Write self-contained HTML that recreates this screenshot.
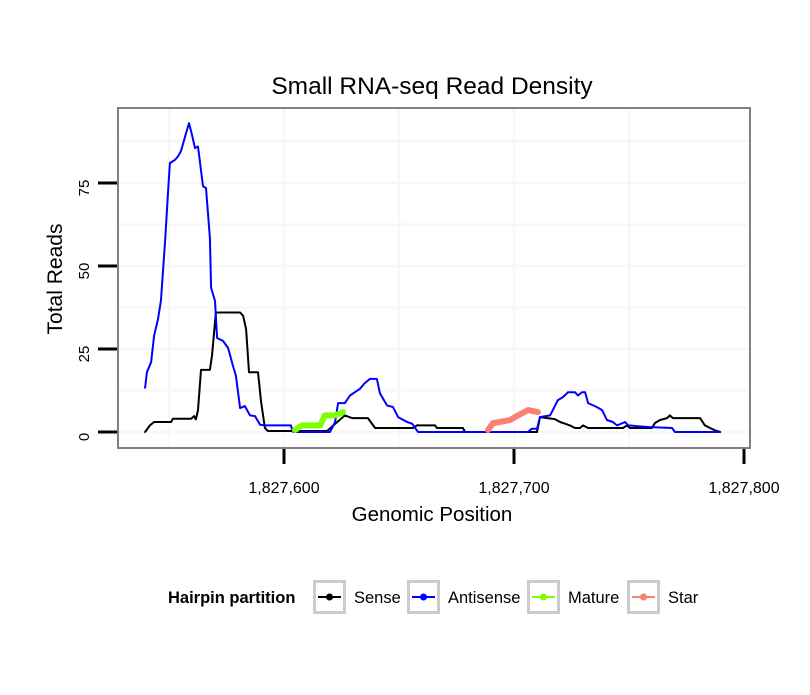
<!DOCTYPE html>
<html><head><meta charset="utf-8"><style>
body{margin:0;background:#fff}
svg{font-family:"Liberation Sans",sans-serif}
</style></head><body>
<svg width="810" height="690">
<rect width="810" height="690" fill="#fff"/>
<text x="432" y="94" text-anchor="middle" font-size="24.5">Small RNA-seq Read Density</text>
<g id="grid"></g>
<rect x="118" y="108" width="632" height="340" fill="none" stroke="#808080" stroke-width="2"/>
<g id="series"></g>
<g id="axes"></g>
<text x="432" y="521" text-anchor="middle" font-size="20.5">Genomic Position</text>
<text transform="translate(62,279) rotate(-90)" text-anchor="middle" font-size="21">Total Reads</text>
<g>
<text x="168" y="603" font-size="16.5" font-weight="bold">Hairpin partition</text>
<g id="legend"></g>
</g>
</svg>
<script>
const xTicks=[1827600,1827700,1827800];
const xTickLabels=["1,827,600","1,827,700","1,827,800"];
const yTicks=[0,25,50,75];
const yTickLabels=["0","25","50","75"];
const sensePos=[1827539.6,1827541.7,1827543.5,1827550.9,1827551.7,1827559.6,1827560.9,1827561.7,1827562.6,1827563.9,1827567.8,1827568.7,1827570.4,1827580.9,1827582.2,1827583.5,1827584.8,1827588.7,1827590,1827591.7,1827593,1827618.7,1827626.5,1827629.6,1827636.5,1827639.6,1827656.1,1827657.8,1827665.7,1827666.5,1827677.8,1827678.7,1827710,1827711.3,1827717.8,1827720,1827722.2,1827724.3,1827726.5,1827728.7,1827730,1827732.2,1827747.4,1827749.1,1827750.4,1827760,1827761.3,1827763.5,1827766.5,1827767.8,1827769.1,1827780.9,1827783,1827785.2,1827787.4,1827789.6];
const senseVal=[0,2,3,3,4,4,4.8,3.8,6.6,18.7,18.7,23,36,36,35,31,18,18,9.3,1.2,0.3,0.3,5,4.2,4.2,1.2,1.2,2,2,1.2,1.2,0,0,4.5,3.9,3,2.5,2,1.2,1.2,2,1.2,1.2,2,1.2,1.2,2.7,3.6,4.2,5,4.2,4.2,2,1.2,0.5,0];
const antiPos=[1827539.6,1827540.4,1827542.2,1827543.5,1827545.2,1827546.5,1827548.3,1827549.6,1827550.4,1827552.6,1827553.9,1827555.2,1827557,1827558.7,1827560,1827561.3,1827562.6,1827564.8,1827566.1,1827567.8,1827568.3,1827570,1827570.9,1827573.5,1827575.7,1827577.8,1827579.1,1827580.9,1827583,1827585.2,1827587.4,1827589.6,1827591.7,1827603,1827603.9,1827620,1827622.2,1827623.5,1827626.5,1827628.7,1827633,1827635.2,1827637.4,1827640.4,1827641.7,1827644.8,1827647.4,1827649.6,1827653.5,1827655.7,1827658.3,1827706,1827707.8,1827710,1827711.3,1827715.7,1827719.1,1827721.3,1827723.5,1827726.5,1827727.8,1827729.6,1827730.9,1827732.2,1827736.1,1827738.3,1827740.4,1827743,1827744.8,1827748.3,1827749.6,1827758.3,1827768.7,1827770,1827788.7];
const antiVal=[13.3,18,21,29,34,39.5,57.5,72.6,81,82,83,84.6,89,93,89.5,85.5,86,74,73.5,58.5,43.4,39.5,28.3,27.4,25.3,20,17,7.2,7.8,5,4.8,2.2,2,2,0,0,3,8.7,8.7,11,13,14.8,16,16,11.7,8,7.5,4.5,3,2.5,0,0,1,1,4.5,5,9.6,10.5,12,12,11,12,12,8.7,7.5,6.6,3.6,3,2,3,2,1.5,1.2,0,0];
const maturePos=[1827604.8,1827607.8,1827615.7,1827617.8,1827622.2,1827625.7];
const matureVal=[0.6,2,2,5,5,6];
const starPos=[1827688.7,1827690.9,1827693.9,1827698.3,1827701.7,1827706.1,1827710.4];
const starVal=[0.6,2.7,3,3.6,5,6.6,6];
const sx=v=>284+(v-1827600)*2.3;
const sy=v=>432-v*3.32;
const NS="http://www.w3.org/2000/svg";
function mk(p,t,a){const e=document.createElementNS(NS,t);for(const k in a)e.setAttribute(k,a[k]);p.appendChild(e);return e;}
const grid=document.getElementById('grid');
[1827550,1827600,1827650,1827700,1827750].forEach(v=>{
const l=mk(grid,'line',{x1:sx(v),x2:sx(v),y1:109,y2:447,stroke:'#f7f7f7','stroke-width':2.5});

});
[0,12.5,25,37.5,50,62.5,75,87.6].forEach(v=>{
const l=mk(grid,'line',{x1:119,x2:749,y1:sy(v),y2:sy(v),stroke:'#f7f7f7','stroke-width':2.5});

});
const axes=document.getElementById('axes');
xTicks.forEach((v,i)=>{
const t=mk(axes,'line',{x1:sx(v),x2:sx(v),y1:449,y2:464,stroke:'#000','stroke-width':3});


const tx=mk(axes,'text',{x:sx(v),y:493,'text-anchor':'middle','font-size':16});
tx.textContent=xTickLabels[i];

});
yTicks.forEach((v,i)=>{
const t=mk(axes,'line',{x1:98,x2:117,y1:sy(v),y2:sy(v),stroke:'#000','stroke-width':3});


const tx=mk(axes,'text',{transform:`translate(89,${sy(v)+5}) rotate(-90)`,'text-anchor':'middle','font-size':15});
tx.textContent=yTickLabels[i];

});
const series=document.getElementById('series');
function line(xs,ys,col,w,name){
const pts=xs.map((x,i)=>[x,ys[i]]).sort((a,b)=>a[0]-b[0]);
const p=mk(series,'polyline',{points:pts.map(q=>sx(q[0]).toFixed(1)+','+sy(q[1]).toFixed(1)).join(' '),fill:'none',stroke:col,'stroke-width':w,'stroke-linejoin':'round','stroke-linecap':'round'});

}
line(sensePos,senseVal,'#000',2,'sense-line');
line(antiPos,antiVal,'#0000ff',2,'antisense-line');
line(maturePos,matureVal,'#7fff00',6,'mature-line');
line(starPos,starVal,'#fa8072',6,'star-line');
const leg=document.getElementById('legend');
const items=[["Sense","#000",313,354],["Antisense","#0000ff",407,448],["Mature","#7fff00",527,568],["Star","#fa8072",627,668]];
items.forEach(it=>{
const g=mk(leg,'g',{});


mk(g,'rect',{x:it[2]+1.5,y:581.5,width:30,height:31,fill:'#fff',stroke:'#cccccc','stroke-width':3});
mk(g,'line',{x1:it[2]+5,x2:it[2]+28,y1:597,y2:597,stroke:it[1],'stroke-width':2});
mk(g,'circle',{cx:it[2]+16.5,cy:597,r:3.5,fill:it[1]});
const t=mk(g,'text',{x:it[3],y:603,'font-size':16.5});
t.textContent=it[0];});
</script>
</body></html>
